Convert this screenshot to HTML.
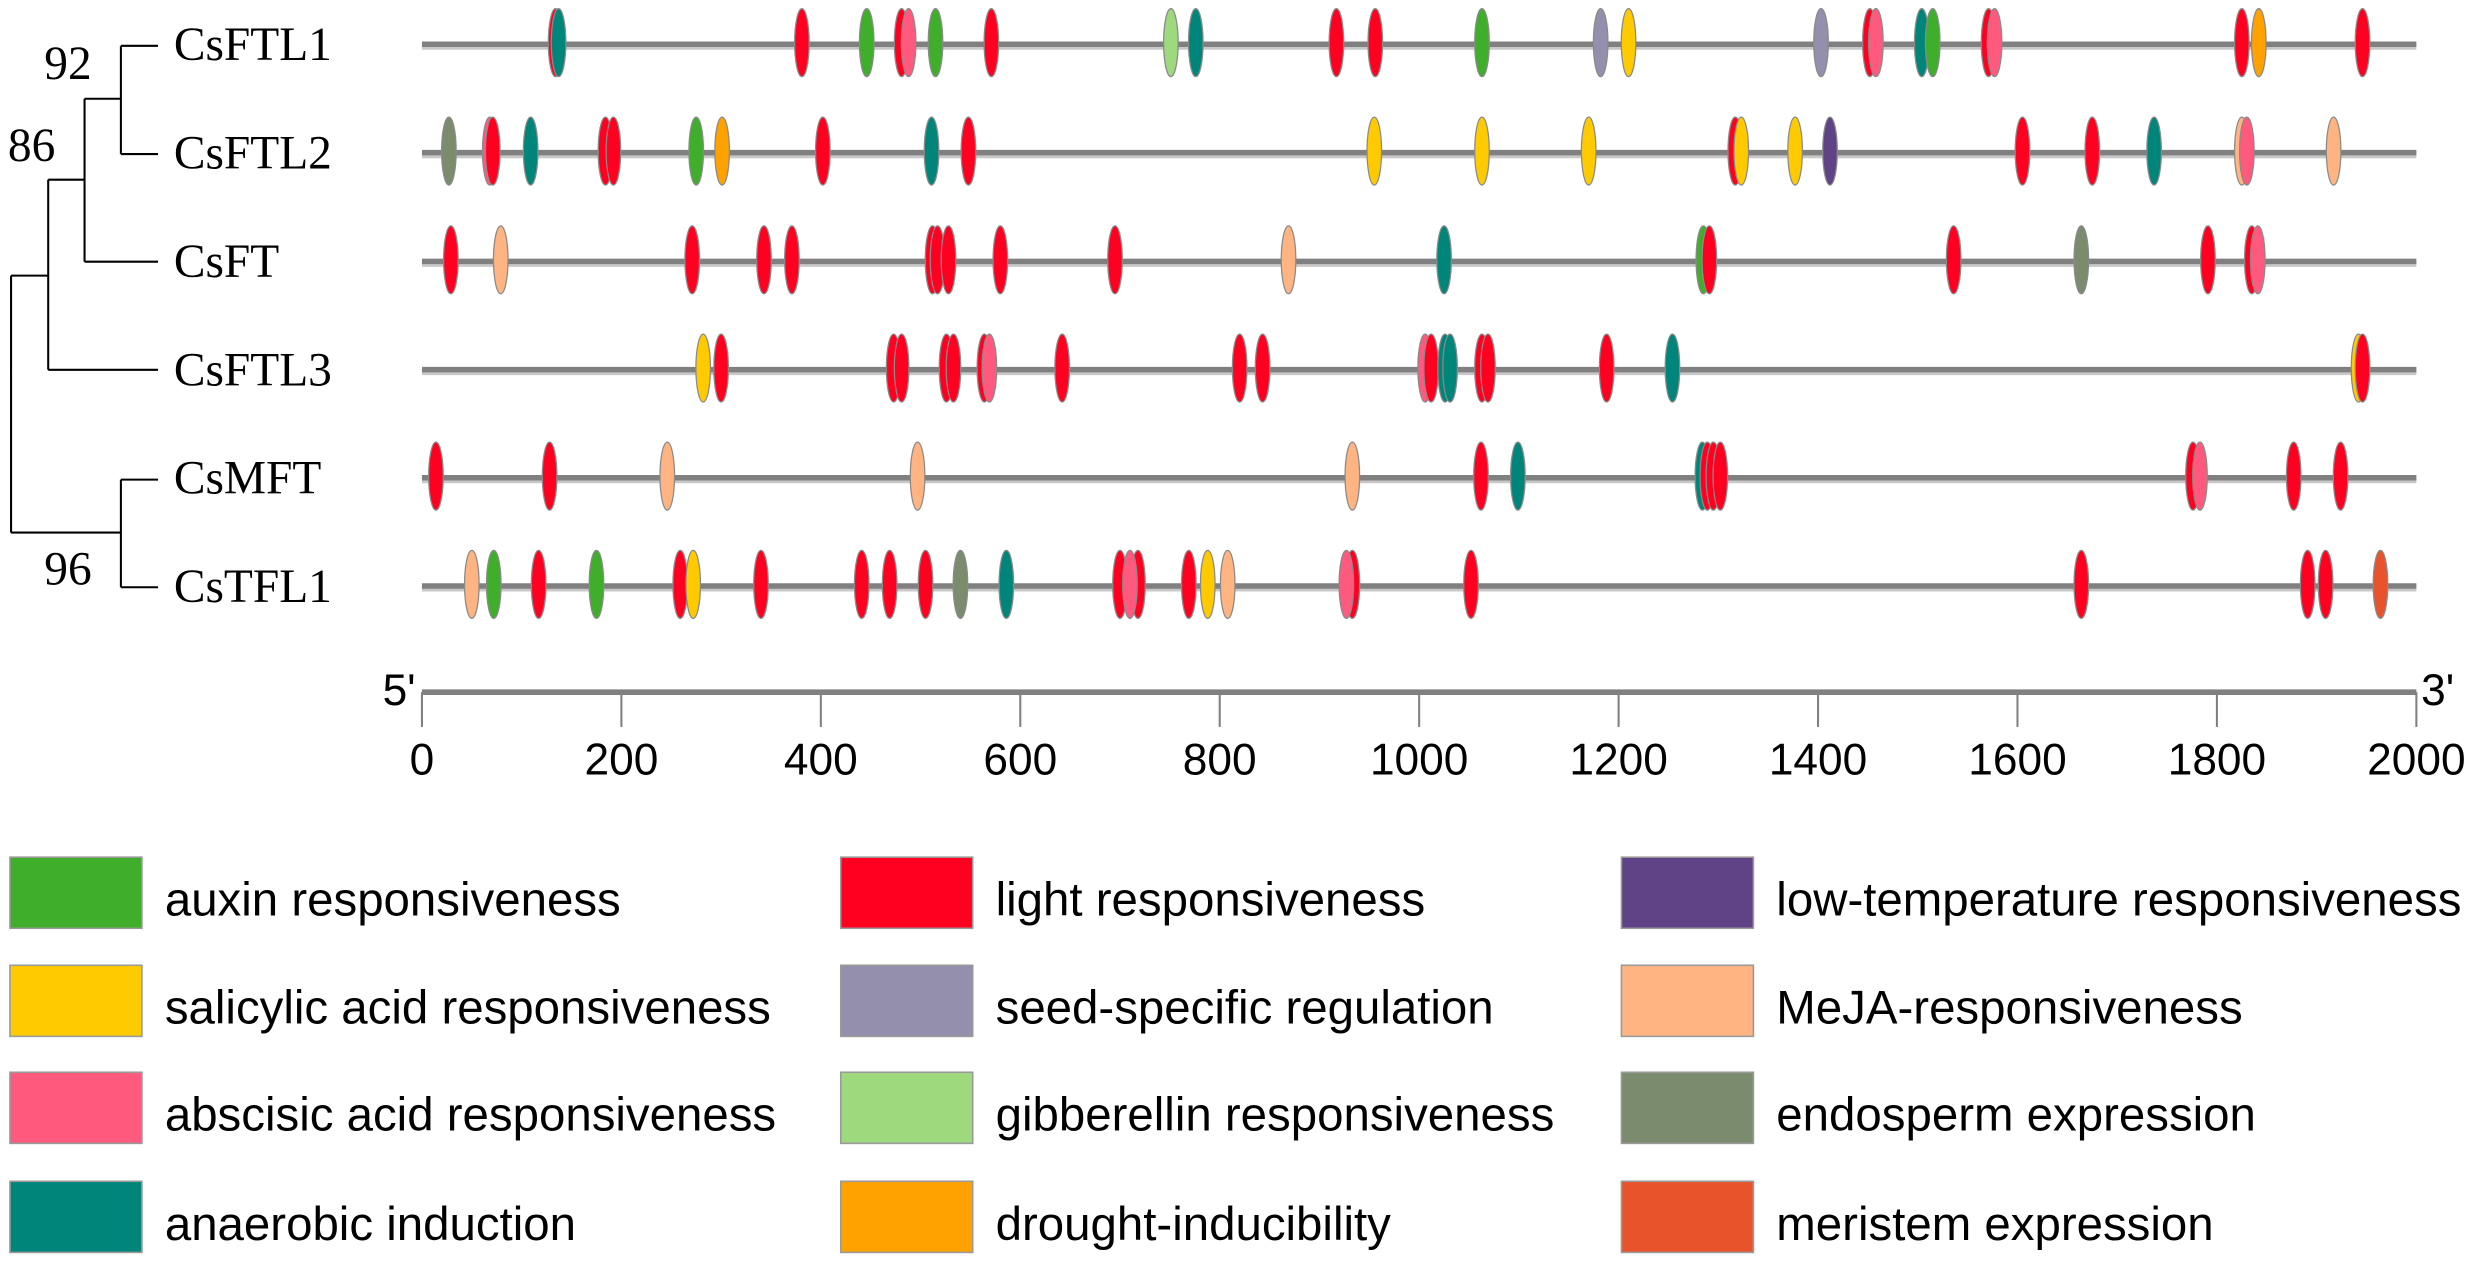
<!DOCTYPE html>
<html><head><meta charset="utf-8">
<style>
html,body{margin:0;padding:0;background:#fff;}
svg{display:block;}
</style></head>
<body>
<svg id="chart" width="2478" height="1263" viewBox="0 0 1568 799.2" preserveAspectRatio="none" xmlns="http://www.w3.org/2000/svg">
  <g id="tree" stroke="#000" stroke-width="1.3" fill="none">
    <path d="M76.5 29H100M76.5 29V97.5M76.5 97.5H100M53.5 62.5H76.5M53.5 62.5V165.6M53.5 165.6H100M30.5 113.7H53.5M30.5 113.7V234M30.5 234H100M7 174.4H30.5M7 174.4V337M7 337H76.5M76.5 303.5V371.6M76.5 303.5H100M76.5 371.6H100"/>
  </g>
  <g font-family="'Liberation Serif', serif" font-size="30" fill="#000">
    <text x="28" y="50">92</text>
    <text x="5" y="102">86</text>
    <text x="28" y="370">96</text>
  </g>
  <g id="genes"></g>
  <g id="axis"></g>
  <g id="legend"></g>
</svg>
<script>
const geneNames = ["CsFTL1","CsFTL2","CsFT","CsFTL3","CsMFT","CsTFL1"];
const ftl1Pos = [134,137,381,446,481,488,515,571,751,776,917,956,1063,1182,1210,1403,1452,1458,1504,1515,1571,1577,1825,1842,1946];
const ftl1Type = ["L","N","L","A","L","B","A","L","G","N","L","L","A","D","S","D","L","B","N","A","L","B","L","O","L"];
const ftl2Pos = [27,68,71,109,184,192,275,301,402,511,548,955,1063,1170,1317,1323,1377,1412,1605,1675,1737,1825,1830,1917];
const ftl2Type = ["E","B","L","N","L","L","A","O","L","N","L","S","S","S","L","S","S","T","L","L","N","M","B","M"];
const ftPos = [29,79,271,343,371,512,517,528,580,695,869,1025,1285,1291,1536,1664,1791,1835,1841];
const ftType = ["L","M","L","L","L","L","L","L","L","L","M","N","A","L","L","E","L","L","B"];
const ftl3Pos = [282,300,473,481,526,533,564,569,642,820,843,1006,1012,1026,1031,1063,1069,1188,1254,1942,1946];
const ftl3Type = ["S","L","L","L","L","L","L","B","L","L","L","B","L","N","N","L","L","L","N","S","L"];
const mftPos = [14,128,246,497,933,1062,1099,1284,1289,1295,1302,1776,1783,1877,1924];
const mftType = ["L","L","M","M","M","L","N","N","L","L","L","L","B","L","L"];
const tfl1Pos = [50,72,117,175,259,272,340,441,469,505,540,586,700,718,710,769,788,808,933,927,1052,1664,1891,1909,1964];
const tfl1Type = ["M","A","L","A","L","S","L","L","L","L","E","N","L","L","B","L","S","M","L","B","L","L","L","L","R"];
const axisTicks = [0,200,400,600,800,1000,1200,1400,1600,1800,2000];
const legendCodes = ["A","S","B","N","L","D","G","O","T","M","E","R"];
const legendLabels = ["auxin responsiveness","salicylic acid responsiveness","abscisic acid responsiveness","anaerobic induction","light responsiveness","seed-specific regulation","gibberellin responsiveness","drought-inducibility","low-temperature responsiveness","MeJA-responsiveness","endosperm expression","meristem expression"];

const colors = {A:"#3fae2a",L:"#ff0020",T:"#5f4386",S:"#ffcb00",D:"#948fad",M:"#ffb482",B:"#ff5a7e",G:"#9ed97e",E:"#7b8b6e",N:"#00857a",O:"#ffa200",R:"#e8532b"};
const allPos=[ftl1Pos,ftl2Pos,ftPos,ftl3Pos,mftPos,tfl1Pos];
const allType=[ftl1Type,ftl2Type,ftType,ftl3Type,mftType,tfl1Type];
const rowY=[28,96.6,165.4,233.9,302.3,370.8];
const X0=267,X1=1529,MAXBP=2000;
function xs(bp){return X0+(X1-X0)*bp/MAXBP;}
const NS="http://www.w3.org/2000/svg";
function mk(t,a,p){const e=document.createElementNS(NS,t);for(const k in a)e.setAttribute(k,a[k]);p.appendChild(e);return e;}
const genes=document.getElementById('genes');
geneNames.forEach((g,i)=>{
  const y=rowY[i];
  const grp=mk('g',{},genes);
  
  
  const lab=mk('text',{x:110,y:y+10,'font-family':"'Liberation Serif', serif",'font-size':30,fill:'#000'},grp);
  lab.textContent=g;
  
  
  mk('line',{x1:X0,x2:X1,y1:y+1.5,y2:y+1.5,stroke:'#c8c8c8','stroke-width':4},grp);
  const ln=mk('line',{x1:X0,x2:X1,y1:y,y2:y,stroke:'#808080','stroke-width':3.5},grp);
  
  
  allPos[i].forEach((p,j)=>{
    const el=mk('ellipse',{cx:xs(p),cy:y-1,rx:4.6,ry:21.5,fill:colors[allType[i][j]],stroke:'#8a8a8a','stroke-width':0.8},grp);
    
    
  });
});
const ax=document.getElementById('axis');
const ay=438;
mk('line',{x1:X0,x2:X1,y1:ay,y2:ay,stroke:'#808080','stroke-width':3.5},ax);
axisTicks.forEach(t=>{
  mk('line',{x1:xs(t),x2:xs(t),y1:ay,y2:ay+22,stroke:'#808080','stroke-width':1.3},ax);
  const tx=mk('text',{x:xs(t),y:490,'text-anchor':'middle','font-family':"'Liberation Sans', sans-serif",'font-size':28,fill:'#000'},ax);
  tx.textContent=t;
  
  
});
const f5=mk('text',{x:263,y:446,'text-anchor':'end','font-family':"'Liberation Sans', sans-serif",'font-size':28,fill:'#000'},ax);
f5.textContent="5'";


const f3=mk('text',{x:1532,y:446,'font-family':"'Liberation Sans', sans-serif",'font-size':28,fill:'#000'},ax);
f3.textContent="3'";


const lg=document.getElementById('legend');
const colX=[6.3,338+194,1026];
const rowL=[542.4,610.8,678.5,747.5];
legendCodes.forEach((c,i)=>{
  const col=Math.floor(i/4),r=i%4;
  const x=colX[col],y=rowL[r];
  const e=mk('g',{},lg);
  
  
  mk('rect',{x:x,y:y,width:83.5,height:45,fill:colors[c],stroke:'#9a9a9a','stroke-width':1},e);
  const t=mk('text',{x:x+98,y:y+37,'font-family':"'Liberation Sans', sans-serif",'font-size':30,fill:'#000'},e);
  t.textContent=legendLabels[i];
});
</script>
</body></html>
